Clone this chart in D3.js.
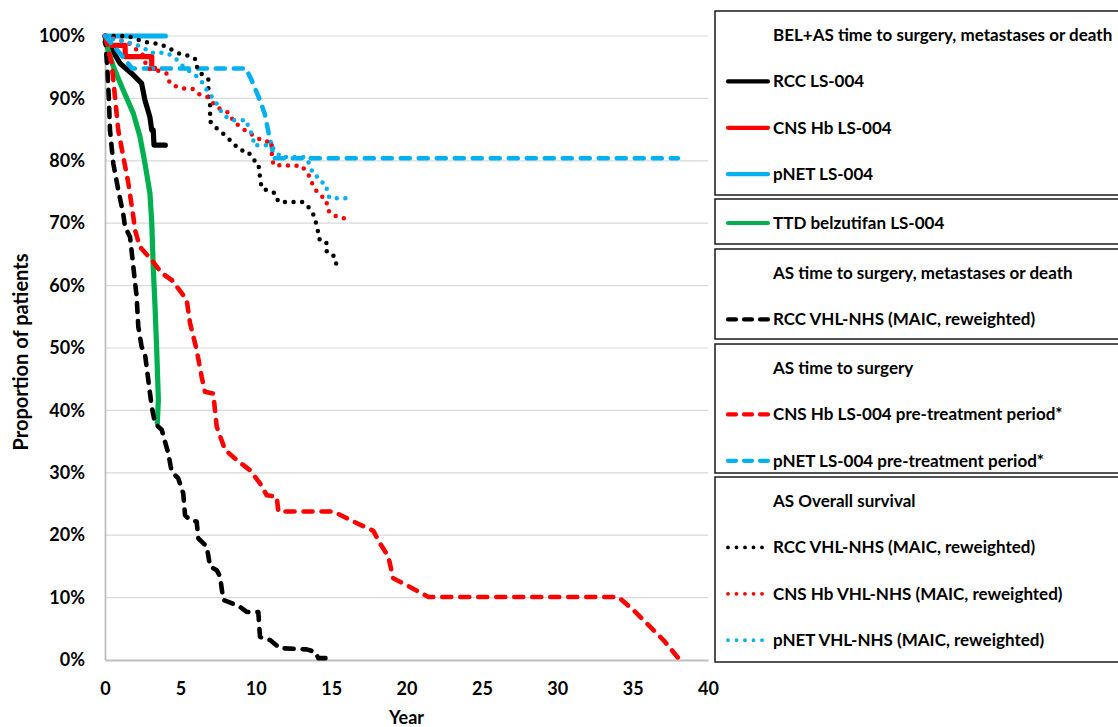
<!DOCTYPE html>
<html>
<head>
<meta charset="utf-8">
<script src="https://cdn.jsdelivr.net/npm/d3@7"></script>
<style>
  body { margin: 0; background: #fff; }
  svg { font-family: Lato, "Open Sans", sans-serif; font-weight: bold; }
</style>
</head>
<body>
<svg width="1118" height="727"></svg>
<script>
// Kaplan-Meier style curves, [year, % of patients]
const rccLs004 = [[0,100],[0.3,98.5],[1.0,95.6],[1.77,94],[2.43,92.4],[2.65,89.7],[2.98,87],[3.1,84.9],[3.2,84.9],[3.25,82.5],[4.0,82.5]];
const cnsLs004 = [[0,100],[0.4,98.5],[1.33,98.5],[1.35,96.7],[3.1,96.7],[3.1,94.8],[3.3,94.8]];
const pnetLs004 = [[0,100],[4.0,100]];
const ttdBelzutifan = [[0,99],[0.1,98.6],[0.55,95.1],[1.21,91.3],[1.88,87.6],[2.32,83.9],[2.65,79.6],[2.98,74.8],[3.1,70.2],[3.2,63],[3.32,56.6],[3.43,49.7],[3.54,41.7],[3.47,37.9]];

const rccVhlTts = [[0,100],[0.15,95],[0.25,90.3],[0.33,84.9],[0.55,79.6],[0.88,75.3],[1.21,71.5],[1.33,69.4],[1.66,67.8],[1.88,63],[2.1,58.2],[2.21,53.4],[2.43,50.2],[2.65,49.1],[2.87,44.9],[3.1,40.6],[3.32,37.9],[3.76,36.9],[4.2,33.1],[4.42,30.2],[4.86,29.1],[5.19,26.7],[5.31,23.2],[5.64,22.4],[6.08,22.2],[6.19,19.5],[6.75,18.2],[6.97,15.0],[7.41,14.4],[7.63,13.4],[7.85,9.6],[8.4,9.1],[8.96,8.5],[9.4,7.7],[10.17,7.7],[10.28,3.7],[10.95,3.2],[11.6,1.9],[13.38,1.7],[13.93,1.3],[14.15,0.3],[15.14,0.3]];
const cnsPreTreat = [[0,100],[0.3,97],[0.44,95.6],[0.66,90.3],[0.88,84.9],[1.21,80.7],[1.55,76.4],[1.88,71],[1.99,68.9],[2.32,66.2],[3.1,64.1],[3.76,62],[4.42,60.9],[5.09,58.8],[5.42,57.7],[5.64,54],[6.08,49.7],[6.41,45.4],[6.63,43],[7.18,42.7],[7.41,37.4],[7.96,33.7],[8.62,32.3],[9.62,30.4],[10.28,28.3],[10.73,26.4],[11.39,26.2],[11.5,23.8],[15.14,23.8],[16.47,22.2],[17.8,20.7],[18.24,18.7],[18.79,16.6],[19.12,13.1],[20.23,11.7],[21.45,10.1],[34.05,10.1],[35.05,8],[37.04,3.2],[38.14,0]];
const pnetPreTreat = [[0,100],[1.0,97.2],[1.8,94.8],[9.35,94.8],[9.73,92.9],[10.28,89.7],[10.6,87.5],[10.85,84.5],[11.06,82.3],[11.17,80.4],[38.0,80.4]];

const rccVhlOs = [[0,100],[1.5,100],[2.54,99.1],[3.32,98.8],[3.76,98.6],[4.42,97.8],[5.09,97],[5.64,96.8],[6.04,96.2],[6.12,94.8],[6.41,93.9],[6.86,93],[6.86,90.3],[6.97,89],[6.97,86.3],[7.41,85.2],[7.96,84.1],[8.51,82.8],[8.96,81.7],[9.51,81.5],[9.73,80.4],[10.17,79.6],[10.28,77.4],[10.39,75.6],[10.95,75.1],[11.28,74.8],[11.5,73.4],[13.16,73.4],[13.49,72.6],[13.82,71.4],[14.04,69.7],[14.26,67.1],[14.71,66.8],[14.71,65.4],[15.14,64.9],[15.26,63.6],[15.7,63.3]];
const cnsVhlOs = [[0,100],[1.5,99],[2.5,97],[2.8,94.8],[3.3,94.6],[4.09,94],[4.31,92.4],[4.75,91.9],[5.19,91.6],[5.82,91.5],[6.19,90.7],[6.75,90.3],[7.08,89.6],[7.3,88.7],[7.85,88.1],[8.29,87.6],[8.51,86.3],[8.96,85.5],[9.4,84.7],[9.95,83.9],[10.5,83.1],[11.06,83.1],[11.06,81.2],[11.17,79.3],[13.05,79.2],[13.6,77.4],[13.82,75.8],[14.26,74.5],[14.71,73.7],[14.71,72.6],[14.93,71.6],[15.59,70.8],[16.25,70.8]];
const pnetVhlOs = [[0,100],[0.5,99.5],[1.5,99],[2.54,98.2],[2.99,97.3],[4.09,97.3],[4.64,96.5],[5.31,94.8],[5.97,93.8],[6.41,92.7],[6.7,91.5],[7.01,90.5],[7.3,89.6],[7.85,87.3],[8.4,86.5],[9.4,86.5],[9.51,85.2],[9.84,83.9],[9.84,82.5],[10.95,82.5],[11.39,81.5],[11.61,80.6],[13.3,80.6],[13.6,79.3],[13.82,77.7],[14.15,77.4],[14.37,76.6],[14.71,76.1],[14.71,74.8],[14.93,74],[16.25,74]];

const xTicks = [0, 5, 10, 15, 20, 25, 30, 35, 40];
const yTicks = [0, 10, 20, 30, 40, 50, 60, 70, 80, 90, 100];

const BLACK = "#000000", RED = "#ff0000", BLUE = "#00b0f0", GREEN = "#00b050";
const SOLID = null, DASH = "9,9", DOT = "0,8.6";

// series in drawing / legend order
const series = [
  { data: rccLs004, color: BLACK, dash: SOLID, width: 5.2 },
  { data: cnsLs004, color: RED, dash: SOLID, width: 5.2 },
  { data: pnetLs004, color: BLUE, dash: SOLID, width: 5.2 },
  { data: ttdBelzutifan, color: GREEN, dash: SOLID, width: 5.2 },
  { data: rccVhlTts, color: BLACK, dash: DASH, width: 4.6 },
  { data: cnsPreTreat, color: RED, dash: DASH, width: 4.6 },
  { data: pnetPreTreat, color: BLUE, dash: DASH, width: 4.6 },
  { data: rccVhlOs, color: BLACK, dash: DOT, width: 4.5 },
  { data: cnsVhlOs, color: RED, dash: DOT, width: 4.5 },
  { data: pnetVhlOs, color: BLUE, dash: DOT, width: 4.5 }
];

// legend groups: each box has an optional header and items (index into series)
const legendBoxes = [
  { y0: 11, y1: 195, header: "BEL+AS time to surgery, metastases or death",
    items: [[0, "RCC LS-004"], [1, "CNS Hb LS-004"], [2, "pNET LS-004"]] },
  { y0: 199, y1: 244, header: null, items: [[3, "TTD belzutifan LS-004"]] },
  { y0: 249, y1: 339, header: "AS time to surgery, metastases or death",
    items: [[4, "RCC VHL-NHS (MAIC, reweighted)"]] },
  { y0: 344, y1: 473, header: "AS time to surgery",
    items: [[5, "CNS Hb LS-004 pre-treatment period*"], [6, "pNET LS-004 pre-treatment period*"]] },
  { y0: 477, y1: 662, header: "AS Overall survival",
    items: [[7, "RCC VHL-NHS (MAIC, reweighted)"], [8, "CNS Hb VHL-NHS (MAIC, reweighted)"], [9, "pNET VHL-NHS (MAIC, reweighted)"]] }
];

const svg = d3.select("svg");
const plotLeft = 105, plotRight = 708, plotTop = 36, plotBottom = 660;

const x = d3.scaleLinear().domain([0, 40]).range([plotLeft, plotRight]);
const y = d3.scaleLinear().domain([0, 100]).range([plotBottom, plotTop]);

// gridlines
svg.append("g")
  .selectAll("line")
  .data(yTicks.filter(d => d > 0))
  .join("line")
  .attr("x1", plotLeft).attr("x2", plotRight)
  .attr("y1", d => y(d)).attr("y2", d => y(d))
  .attr("stroke", "#d9d9d9").attr("stroke-width", 1.2);

// axes
const yAxis = svg.append("g")
  .attr("transform", `translate(${plotLeft},0)`)
  .call(d3.axisLeft(y).tickValues(yTicks).tickSize(0).tickPadding(20).tickFormat(d => d + "%"));
const xAxis = svg.append("g")
  .attr("transform", `translate(0,${plotBottom})`)
  .call(d3.axisBottom(x).tickValues(xTicks).tickSize(0).tickPadding(22));

[xAxis, yAxis].forEach(g => {
  g.select(".domain").attr("stroke", "#bfbfbf").attr("stroke-width", 1.8);
  g.selectAll("text").attr("font-size", 18).attr("font-family", "Lato, sans-serif")
    .attr("font-weight", "bold").attr("fill", "#000");
});

// axis titles
svg.append("text")
  .attr("x", (plotLeft + plotRight) / 2).attr("y", 724)
  .attr("text-anchor", "middle").attr("font-size", 18)
  .text("Year");
svg.append("text")
  .attr("transform", `translate(28,352) rotate(-90)`)
  .attr("text-anchor", "middle").attr("font-size", 20)
  .text("Proportion of patients");

// curves
const line = d3.line().x(d => x(d[0])).y(d => y(d[1]));
svg.append("g")
  .selectAll("path")
  .data(series)
  .join("path")
  .attr("d", d => line(d.data))
  .attr("fill", "none")
  .attr("stroke", d => d.color)
  .attr("stroke-width", d => d.width)
  .attr("stroke-dasharray", d => d.dash)
  .attr("stroke-linecap", "round")
  .attr("stroke-linejoin", "round");

// legend
const lg = svg.append("g");
const rowGap = 46.4;
legendBoxes.forEach(box => {
  lg.append("rect")
    .attr("x", 715).attr("y", box.y0)
    .attr("width", 440).attr("height", box.y1 - box.y0)
    .attr("fill", "#fff").attr("stroke", "#1a1a1a").attr("stroke-width", 1.5);
  let rowY = box.y0 + 24;
  if (box.header) {
    lg.append("text").attr("x", 773).attr("y", rowY).attr("dy", "0.35em")
      .attr("font-size", 17).text(box.header);
    rowY += rowGap;
  }
  box.items.forEach(([i, label]) => {
    const s = series[i];
    lg.append("line")
      .attr("x1", 728).attr("x2", s.dash === DOT ? 766 : 768)
      .attr("y1", rowY).attr("y2", rowY)
      .attr("stroke", s.color)
      .attr("stroke-width", s.dash === DOT ? 3.8 : 4.2)
      .attr("stroke-dasharray", s.dash === DASH ? "8,8" : s.dash === DOT ? "0,8.5" : null)
      .attr("stroke-linecap", "round");
    lg.append("text").attr("x", 773).attr("y", rowY).attr("dy", "0.35em")
      .attr("font-size", 17).text(label);
    rowY += rowGap;
  });
});
</script>
</body>
</html>
